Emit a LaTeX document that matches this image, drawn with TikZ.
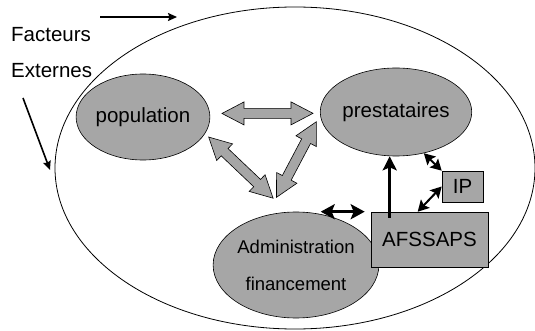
\documentclass[tikz,border=0pt]{standalone}
\usepackage{fontspec}
\setmainfont{Liberation Sans}
\usepackage{xcolor}
\usetikzlibrary{calc, shapes.geometric, arrows.meta}
\definecolor{nodegray}{RGB}{166,166,166}
\tikzset{
	fatstart/.store in=\fatstart, fatend/.store in=\fatend,
	fatstart=0pt, fatend=0pt,
	fat/.style={draw=black, fill=nodegray, line width=0.6pt,
		to path={let \p1 = ($(\tikztostart)!\fatstart!(\tikztotarget)$),
			\p2 = ($(\tikztotarget)!\fatend!(\tikztostart)$) in
			(\p1) -- ($ ($(\p1)!22pt!(\p2)$)!11.5pt!90:(\p2) $)
			-- ($ ($(\p1)!22pt!(\p2)$)!5pt!90:(\p2) $)
			-- ($ ($(\p2)!22pt!(\p1)$)!5pt!-90:(\p1) $)
			-- ($ ($(\p2)!22pt!(\p1)$)!11.5pt!-90:(\p1) $)
			-- (\p2)
			-- ($ ($(\p2)!22pt!(\p1)$)!11.5pt!90:(\p1) $)
			-- ($ ($(\p2)!22pt!(\p1)$)!5pt!90:(\p1) $)
			-- ($ ($(\p1)!22pt!(\p2)$)!5pt!-90:(\p2) $)
			-- ($ ($(\p1)!22pt!(\p2)$)!11.5pt!-90:(\p2) $)
			-- cycle}},
}

\begin{document}
\begin{tikzpicture}[x=1pt, y=-1pt, font=\fontsize{20.5}{24}\selectfont,
	blob/.style={ellipse, draw=black, fill=nodegray, line width=0.6pt, inner sep=0pt},
	box/.style={rectangle, draw=black, fill=nodegray, line width=0.6pt, inner sep=0pt},
	link/.style={line width=2.8pt, {Stealth[length=14pt, width=15pt, inset=3pt]}-{Stealth[length=14pt, width=15pt, inset=3pt]}},
	thinlink/.style={line width=2pt, {Stealth[length=11pt, width=12pt, inset=2pt]}-{Stealth[length=11pt, width=12pt, inset=2pt]}},
	outside/.style={line width=1.6pt, -{Stealth[length=9pt, width=8pt, inset=1.5pt]}}]
	\useasboundingbox (0,0) rectangle (535,331);
	
	% the system
	\draw [line width=0.8pt] (295,168) ellipse [x radius=240, y radius=161];
	
	\node [anchor=west, inner sep=0pt] (facteurs) at (11,35) {Facteurs};
	\node [anchor=west, inner sep=0pt] (externes) at (11,71) {Externes};
	\coordinate (f1) at (100,17);
	\coordinate (f2) at (177,17);
	\coordinate (f3) at (23,98);
	\coordinate (f4) at (50,170);
	\draw [outside] (f1) -- (f2);
	\draw [outside] (f3) -- (f4);
	
	\node [blob, minimum width=114, minimum height=86] (pop) at (143,117) {population};
	\node [blob, minimum width=134, minimum height=88] (prest) at (396,112) {prestataires};
	\node [blob, minimum width=128, minimum height=106, align=center,
		font=\fontsize{18.5}{37}\selectfont] (admin) at (296,265) {Administration\\financement};
	\node [box, minimum width=41, minimum height=31] (ip) at (462.5,186.5) {IP};
	\node [box, minimum width=117, minimum height=55] (afs) at (429.5,239.5) {AFSSAPS};
	
	\draw [fat, fatstart=12pt, fatend=7pt] (pop.3) to (prest.181);
	\draw [fat, fatstart=5pt, fatend=20pt] (pop.-15) to (admin.99);
	\draw [fat, fatstart=8pt, fatend=20pt] (prest.182) to (admin.120);
	
	\draw [link] ([xshift=-50pt]afs.north west) -- ([xshift=-6pt]afs.north west);
	\draw [line width=2.8pt, -{Stealth[length=14pt, width=14pt, inset=3pt]}] ([xshift=19pt, yshift=-6pt]afs.north west) -- ([xshift=19pt]afs.north west |- prest.south);
	\draw [thinlink] (prest.-56) -- (ip.north west);
	\draw [thinlink] ([xshift=47pt]afs.north west) -- (ip.west);
\end{tikzpicture}
\end{document}
